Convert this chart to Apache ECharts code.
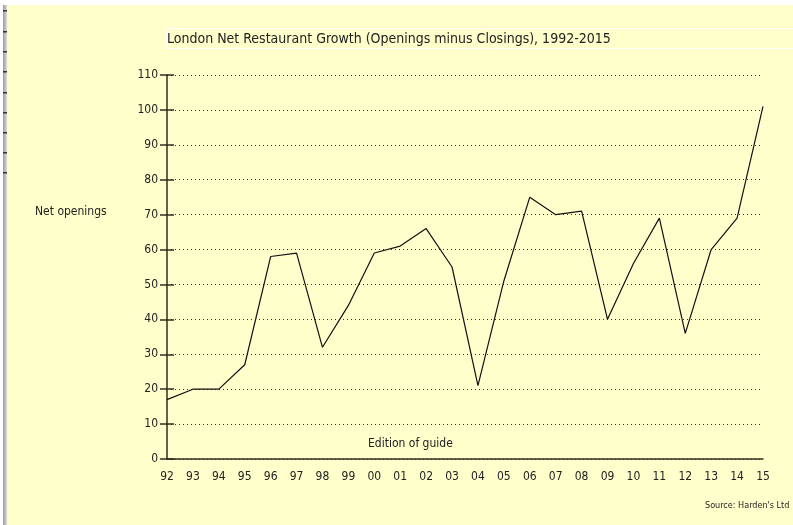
<!DOCTYPE html>
<html>
<head>
<meta charset="utf-8">
<script src="https://cdn.jsdelivr.net/npm/echarts@6/dist/echarts.min.js"></script>
<style>
  html, body { margin: 0; padding: 0; background: #ffffcc; }
  #chart { width: 793px; height: 525px; }
</style>
</head>
<body>
<div id="chart"></div>
<script>
const editions = ["92", "93", "94", "95", "96", "97", "98", "99", "00", "01", "02", "03",
  "04", "05", "06", "07", "08", "09", "10", "11", "12", "13", "14", "15"];
const netOpenings = [17, 20, 20, 27, 58, 59, 32, 44, 59, 61, 66, 55,
  21, 51, 75, 70, 71, 40, 56, 69, 36, 60, 69, 101];
const yTicks = [0, 110, 10]; // min, max, step

const font = "'DejaVu Sans Condensed', 'DejaVu Sans', sans-serif";
const ink = "#222";
const axisInk = "#2e2e22";

const chart = echarts.init(document.getElementById("chart"));

// little dark notches on the left window edge
const notches = [10, 31, 51, 71, 92, 112, 132, 152, 172].map(y => ({
  type: "rect",
  shape: { x: 3, y: y, width: 4, height: 1.5 },
  style: { fill: "#333" }
}));

chart.setOption({
  backgroundColor: "#ffffcc",
  animation: false,
  grid: { left: 167, right: 30, top: 75, bottom: 66 },
  xAxis: {
    type: "category",
    data: editions,
    boundaryGap: false,
    axisLine: { lineStyle: { color: axisInk, width: 1.5 } },
    axisTick: { show: false },
    axisLabel: { color: ink, fontFamily: font, fontSize: 12, margin: 12 }
  },
  yAxis: [
    {
      type: "value",
      min: yTicks[0],
      max: yTicks[1],
      interval: yTicks[2],
      axisLine: { show: true, lineStyle: { color: axisInk, width: 1.5 } },
      axisTick: { show: true, length: 7, lineStyle: { color: axisInk, width: 1.5 } },
      axisLabel: { color: ink, fontFamily: font, fontSize: 12, margin: 9 },
      splitLine: { lineStyle: { color: "#333", type: [1, 3], width: 1 } }
    },
    {
      // inner half of the crossing ticks
      type: "value",
      position: "left",
      min: yTicks[0],
      max: yTicks[1],
      interval: yTicks[2],
      axisLine: { show: false },
      axisTick: { show: true, inside: true, length: 7, lineStyle: { color: axisInk, width: 1.5 } },
      axisLabel: { show: false },
      splitLine: { show: false }
    }
  ],
  series: [
    {
      type: "line",
      data: netOpenings,
      showSymbol: false,
      lineStyle: { color: "#111", width: 1.2 }
    }
  ],
  graphic: [
    { type: "rect", shape: { x: 0, y: 0, width: 793, height: 5 }, style: { fill: "#ffffff" } },
    { type: "rect", shape: { x: 0, y: 0, width: 3, height: 525 }, style: { fill: "#ffffff" } },
    {
      type: "rect",
      shape: { x: 3, y: 5, width: 4, height: 520 },
      style: {
        fill: new echarts.graphic.LinearGradient(0, 0, 1, 0, [
          { offset: 0, color: "#9a9a9a" },
          { offset: 1, color: "#dcdcdc" }
        ])
      }
    },
    ...notches,
    {
      type: "rect",
      shape: { x: 166.5, y: 28.5, width: 640, height: 20 },
      style: { fill: "none", stroke: "#ffffff", lineWidth: 1 }
    },
    {
      type: "text",
      left: 167,
      top: 32,
      style: { text: "London Net Restaurant Growth (Openings minus Closings), 1992-2015", fill: ink, font: "14px " + font }
    },
    {
      type: "text",
      left: 35,
      top: 206,
      style: { text: "Net openings", fill: ink, font: "12px " + font }
    },
    {
      type: "text",
      left: 368,
      top: 438,
      style: { text: "Edition of guide", fill: ink, font: "12px " + font }
    },
    {
      type: "text",
      left: 705,
      top: 501,
      style: { text: "Source: Harden's Ltd", fill: ink, font: "9px " + font }
    }
  ]
});
</script>
</body>
</html>
